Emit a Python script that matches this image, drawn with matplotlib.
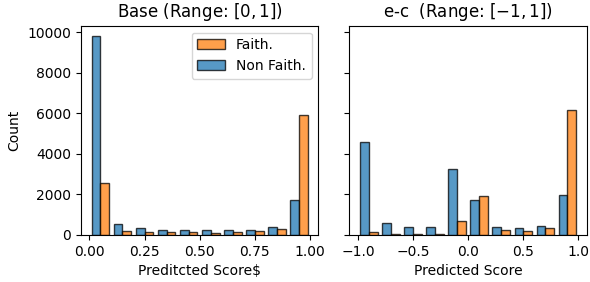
import matplotlib
matplotlib.use('Agg')
import matplotlib.pyplot as plt
import numpy as np

# bin edges of both histograms
base_edges = np.linspace(0, 1, 11)
ec_edges = np.linspace(-1, 1, 11)

# counts per bin
base_nonfaith = [9830, 530, 320, 225, 225, 225, 225, 225, 380, 1700]
base_faith = [2551, 180, 125, 125, 125, 75, 125, 170, 314, 5893]
ec_nonfaith = [4576, 575, 370, 380, 3259, 1700, 370, 320, 420, 1958]
ec_faith = [130, 40, 40, 40, 685, 1909, 220, 170, 320, 6156]

BLUE = '#1f77b4'
ORANGE = '#ff7f0e'


def dodge_hist(ax, edges, nonfaith, faith, shrink=0.8):
    w = np.diff(edges)
    bw = w * shrink / 2
    start = edges[:-1] + w * (1 - shrink) / 2
    b1 = ax.bar(start, nonfaith, bw, align='edge', color=BLUE, alpha=0.75,
                edgecolor='black', linewidth=1, label='Non Faith.')
    b2 = ax.bar(start + bw, faith, bw, align='edge', color=ORANGE, alpha=0.75,
                edgecolor='black', linewidth=1, label='Faith.')
    return b1, b2


fig, (ax1, ax2) = plt.subplots(1, 2, sharey=True, figsize=(5.9, 2.82), dpi=100)
fig.subplots_adjust(left=0.137, right=0.995, top=0.909, bottom=0.167, wspace=0.13)

b1, b2 = dodge_hist(ax1, base_edges, base_nonfaith, base_faith)
dodge_hist(ax2, ec_edges, ec_nonfaith, ec_faith)

ax1.set_title('Base (Range: $[0, 1]$)', fontsize=12)
ax2.set_title('e-c  (Range: $[-1, 1]$)', fontsize=12)
ax1.set_xlabel('Preditcted Score$')
ax2.set_xlabel('Predicted Score')
ax1.set_ylabel('Count')
ax1.set_xticks([0, 0.25, 0.5, 0.75, 1.0])
ax2.set_xticks([-1.0, -0.5, 0.0, 0.5, 1.0])
ax1.set_ylim(0, max(base_nonfaith) * 1.05)
ax1.set_yticks([0, 2000, 4000, 6000, 8000, 10000])
ax1.legend([b2, b1], ['Faith.', 'Non Faith.'], loc='upper right')

plt.savefig('out.png', dpi=100)
